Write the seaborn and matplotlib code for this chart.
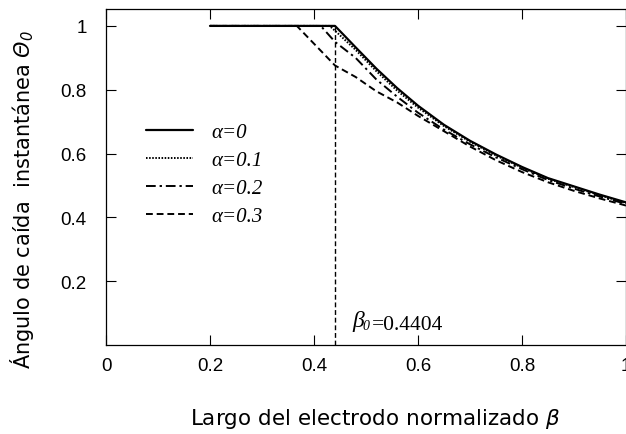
import pandas as pd
import matplotlib
matplotlib.use('Agg')
import matplotlib.pyplot as plt
import seaborn as sns

sns.set_style('ticks')
plt.rcParams['font.family'] = ['Liberation Sans', 'DejaVu Sans']
plt.rcParams['mathtext.fontset'] = 'stix'
# fuente "custom" solo para la Theta cursiva del eje y
plt.rcParams['mathtext.rm'] = 'DejaVu Sans:italic'
plt.rcParams['mathtext.it'] = 'DejaVu Sans:italic'
for k in ['text.color', 'axes.labelcolor', 'xtick.color', 'ytick.color', 'axes.edgecolor']:
    plt.rcParams[k] = 'black'

# datos
beta0 = 0.4404
beta_tail = [0.4404, 0.48, 0.52, 0.56, 0.6, 0.65, 0.7, 0.75, 0.8, 0.85, 0.9, 0.95, 1.0]
knees = [0.4404, 0.43, 0.413, 0.367]
theta_a0 = [1.0, 0.933, 0.866, 0.805, 0.75, 0.69, 0.64, 0.597, 0.558, 0.523, 0.497, 0.471, 0.447]
theta_a1 = [0.985, 0.925, 0.858, 0.797, 0.744, 0.686, 0.637, 0.594, 0.556, 0.521, 0.495, 0.469, 0.445]
theta_a2 = [0.95, 0.9, 0.832, 0.778, 0.728, 0.675, 0.629, 0.588, 0.551, 0.517, 0.49, 0.465, 0.442]
theta_a3 = [0.876, 0.84, 0.795, 0.76, 0.718, 0.67, 0.622, 0.579, 0.542, 0.51, 0.483, 0.459, 0.437]
alphas = ['0', '0.1', '0.2', '0.3']
styles = ['-', (0, (0.8, 0.8)), (0, (5, 2, 1.2, 2)), (0, (3.5, 2))]
widths = [1.6, 1.4, 1.4, 1.4]

fig = plt.figure(figsize=(6.26, 4.35), dpi=100)
ax = fig.add_axes([106 / 626, 89 / 435, 520 / 626, 336 / 435])

series = [theta_a0, theta_a1, theta_a2, theta_a3]
for a, knee, th, ls, lw in zip(alphas, knees, series, styles, widths):
    if knee == beta0:
        xs = [0.2] + beta_tail
        ys = [1.0] + th
    else:
        xs = [0.2, knee] + beta_tail
        ys = [1.0, 1.0] + th
    df = pd.DataFrame({'beta': xs, 'theta': ys})
    sns.lineplot(data=df, x='beta', y='theta', ax=ax, color='k', lw=lw,
                 linestyle=ls, sort=False, label='α=' + a)

ax.vlines(beta0, 0, 1, colors='k', lw=1, linestyles=(0, (3.5, 2)))
serif_it = dict(family='Liberation Serif', style='italic', va='baseline')
ax.text(0.473, 0.061, 'β', fontsize=17, **serif_it)
ax.text(0.494, 0.050, '0', fontsize=10, **serif_it)
ax.text(0.511, 0.050, '=0.4404', fontsize=15.5, va='baseline',
        family='Liberation Serif')

ax.set_xlim(0, 1)
ax.set_ylim(0, 1.053)
ax.set_xticks([0, 0.2, 0.4, 0.6, 0.8, 1.0])
ax.set_xticklabels(['0', '0.2', '0.4', '0.6', '0.8', '1'], family='Liberation Sans')
ax.set_yticks([0.2, 0.4, 0.6, 0.8, 1.0])
ax.set_yticklabels(['0.2', '0.4', '0.6', '0.8', '1'], family='Liberation Sans')
ax.tick_params(direction='in', length=7, width=0.8, top=True, right=True,
               labelsize=13.5, pad=9)
ax.tick_params(axis='y', pad=14)
for s in ax.spines.values():
    s.set_linewidth(0.9)

ax.set_xlabel(r'Largo del electrodo normalizado $\mathit{\beta}$', fontsize=15.5,
              family='DejaVu Sans', math_fontfamily='dejavusans')
ax.xaxis.set_label_coords(0.517, -0.183)
ax.set_ylabel(r'Ángulo de caída  instantánea $\Theta_0$', fontsize=15,
              family='DejaVu Sans', math_fontfamily='custom')
ax.yaxis.set_label_coords(-0.135, 0.437)

leg = ax.legend(loc='upper left', bbox_to_anchor=(0.04, 0.718), frameon=False,
                prop={'family': 'Liberation Serif', 'style': 'italic', 'size': 15},
                handlelength=2.3, labelspacing=0.4, handletextpad=0.85)

plt.savefig('out.png', dpi=100)
